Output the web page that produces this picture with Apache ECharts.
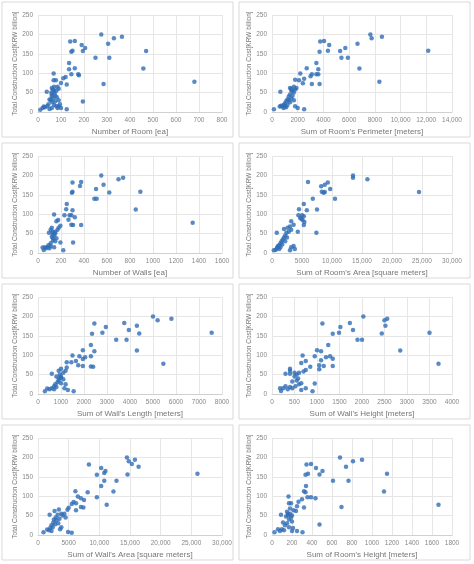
<!DOCTYPE html>
<html><head><meta charset="utf-8">
<script src="https://cdn.jsdelivr.net/npm/echarts@6/dist/echarts.min.js"></script>
<style>html,body{margin:0;padding:0;background:#fff}#c{width:474px;height:564px}</style>
</head><body><div id="c"></div>
<script>
const yAxisTitle = "Total Construction Cost[KRW billion]";
const xTitles = ["Number of Room [ea]","Sum of Room's Perimeter [meters]","Number of Walls [ea]","Sum of Room's Area [square meters]","Sum of Wall's Length [meters]","Sum of Wall's Height [meters]","Sum of Wall's Area [square meters]","Sum of Room's Height [meters]"];
const xMax = [800,14000,1600,30000,8000,4000,30000,1800];
const xStep = [100,2000,200,5000,1000,500,5000,200];
const yTicks = [0,50,100,150,200,250];

const roomCount = [[275,200],[365,194],[330,190],[305,176],[470,157],[310,140],[250,140],[458,112],[680,78],[285,72],[195,27],[125,7],[160,183],[140,182],[190,173],[205,165],[150,158],[145,155],[195,157],[135,126],[160,113],[135,110],[145,97],[175,97],[178,95],[120,90],[110,87],[125,71],[100,75],[68,99],[68,82],[78,82],[85,65],[90,60],[60,62],[65,58],[70,55],[80,55],[58,50],[72,48],[38,52],[60,45],[75,42],[82,38],[65,35],[55,30],[90,30],[50,32],[62,25],[45,20],[70,18],[80,15],[90,15],[100,10],[40,15],[30,12],[25,14],[20,10],[10,6],[60,10],[50,8],[85,10],[95,20],[75,28],[70,65],[60,40]];
const roomPerimeter = [[7650,200],[7750,190],[8550,194],[6650,176],[4050,183],[3750,182],[4450,173],[5700,165],[4350,158],[3700,155],[5300,157],[5400,140],[5900,140],[12150,158],[6800,112],[8350,78],[3450,126],[2700,113],[3600,110],[3450,97],[3600,97],[3100,97],[3000,92],[2200,99],[2500,86],[2100,82],[1800,83],[2400,74],[3100,72],[3700,72],[1400,62],[1700,65],[1900,62],[650,52],[1500,55],[1700,50],[1400,45],[1600,42],[1300,40],[1500,35],[1200,32],[1100,28],[1400,25],[1000,22],[900,18],[1200,18],[800,14],[600,14],[1100,12],[900,10],[1800,15],[2000,10],[2500,7],[150,7],[1600,55],[1800,58],[1300,30],[700,16],[1000,15],[1700,30],[1500,60]];
const wallCount = [[550,200],[740,194],[700,190],[570,176],[375,183],[300,182],[365,173],[505,165],[300,158],[295,155],[620,156],[890,158],[490,140],[510,140],[850,112],[1345,78],[250,126],[245,113],[300,110],[230,97],[275,97],[290,97],[320,92],[140,99],[265,86],[175,85],[160,82],[290,73],[305,72],[375,72],[195,70],[120,65],[110,60],[170,60],[180,65],[95,52],[130,55],[150,50],[140,45],[120,42],[160,38],[130,32],[150,30],[110,25],[195,27],[305,27],[90,20],[110,18],[85,15],[140,15],[60,15],[40,14],[70,12],[50,8],[220,7],[100,12],[125,50],[150,55],[130,38]];
const roomArea = [[13500,200],[13500,194],[15900,190],[8800,176],[9300,182],[6000,183],[8200,172],[9700,165],[8300,158],[8600,155],[8800,157],[24500,157],[6800,140],[10500,140],[7500,112],[7400,52],[5300,126],[4500,113],[5800,110],[4400,97],[5000,97],[5300,95],[4700,90],[5100,85],[4900,88],[5400,80],[5300,72],[4300,55],[3200,82],[3600,73],[3000,68],[3200,60],[2800,55],[2600,65],[2000,62],[2400,52],[800,52],[2200,45],[2000,40],[2500,40],[1800,35],[1600,30],[1400,25],[1200,20],[1000,18],[900,15],[800,12],[1200,10],[600,8],[300,7],[3200,15],[3600,18],[3800,10],[3000,7],[1400,15],[1700,22],[2200,30]];
const wallLength = [[5000,200],[5200,190],[5800,194],[4300,176],[3750,183],[2450,182],[2950,173],[3950,165],[2800,158],[2350,155],[4400,156],[7550,158],[3400,140],[3850,140],[4300,112],[5450,78],[2300,126],[1950,113],[2450,110],[1500,99],[1800,97],[2300,97],[2050,95],[1950,90],[1650,85],[1450,82],[1250,82],[1750,74],[1950,72],[2300,71],[2400,70],[1250,68],[1000,65],[900,60],[1200,60],[600,52],[1100,55],[950,50],[800,45],[1000,42],[1100,38],[900,35],[850,30],[1000,28],[750,25],[1200,25],[700,20],[800,18],[600,15],[400,14],[500,12],[700,12],[300,7],[1300,10],[1550,7],[1150,15],[1000,45],[900,40]];
const wallHeight = [[2030,200],[2560,194],[2500,190],[2520,176],[1730,183],[1120,182],[1520,173],[1800,165],[1490,158],[1350,155],[2440,156],[3500,158],[1900,140],[2000,140],[2850,112],[3700,78],[1000,113],[1250,126],[1090,110],[680,99],[950,97],[1200,95],[1290,97],[1350,91],[1090,87],[750,85],[650,80],[1150,72],[1350,72],[1050,74],[1050,64],[850,70],[750,62],[700,58],[400,65],[400,60],[600,55],[300,52],[400,52],[550,50],[500,45],[580,40],[450,32],[650,28],[600,25],[950,27],[520,20],[300,20],[400,18],[450,15],[750,15],[180,15],[250,15],[350,12],[200,8],[650,10],[900,7],[550,35],[500,55]];
const wallArea = [[14500,200],[15800,194],[14800,190],[16400,176],[8300,182],[15300,183],[10300,173],[11000,165],[9600,155],[10800,160],[14600,156],[26000,158],[10800,140],[12800,140],[12300,112],[11200,78],[10300,126],[6100,113],[8100,110],[9600,97],[6500,99],[7000,95],[7500,90],[5800,85],[6200,82],[5500,80],[7000,72],[7400,71],[6200,64],[5000,70],[4800,65],[2700,62],[3400,66],[1900,52],[3800,55],[4300,55],[4000,50],[2900,45],[3500,42],[4500,45],[3000,38],[2500,32],[3300,30],[2200,25],[3800,20],[3600,15],[2000,18],[1500,14],[1800,12],[2200,10],[900,7],[4900,8],[5500,6],[2800,28],[2400,20],[3200,52],[2600,40]];
const roomHeight = [[680,200],[900,194],[810,190],[740,176],[390,183],[345,182],[440,173],[505,165],[360,158],[335,155],[475,156],[1150,158],[610,140],[765,140],[1120,112],[1665,78],[340,126],[320,113],[335,110],[165,99],[355,97],[390,97],[435,95],[300,92],[265,86],[190,82],[170,82],[250,74],[320,71],[695,72],[215,64],[240,62],[150,60],[180,68],[90,52],[160,55],[200,50],[140,48],[190,45],[170,40],[200,35],[150,30],[110,32],[130,25],[170,20],[210,18],[100,15],[60,15],[120,12],[80,10],[25,7],[200,10],[250,10],[305,7],[475,27],[160,50],[180,55]];
const panels = [roomCount,roomPerimeter,wallCount,roomArea,wallLength,wallHeight,wallArea,roomHeight];

const fmt = v => v >= 10000 ? v.toLocaleString('en-US') : String(v);
const grid=[],xAxis=[],yAxis=[],series=[],graphic=[];
panels.forEach((d,i)=>{
  const c=i%2, r=Math.floor(i/2);
  const L=c*237, T=r*141;
  graphic.push({type:'rect',shape:{x:L+2,y:T+2,width:231,height:135},style:{fill:'none',stroke:'#d9d9d9',lineWidth:1}});
  grid.push({left:L+(c?35:38),width:c?180:184,top:T+15,height:97});
  xAxis.push({gridIndex:i,type:'value',min:0,max:xMax[i],interval:xStep[i],name:xTitles[i],nameLocation:'middle',nameGap:16,
    nameTextStyle:{fontSize:8,color:'#777'},axisLine:{show:true,lineStyle:{color:'#d0d0d0'}},axisTick:{show:false},
    axisLabel:{fontSize:6.5,color:'#888',margin:5,formatter:fmt},splitLine:{show:true,lineStyle:{color:'#e6e6e6'}}});
  yAxis.push({gridIndex:i,type:'value',min:yTicks[0],max:yTicks[yTicks.length-1],interval:50,name:yAxisTitle,nameLocation:'middle',nameGap:18,
    nameTextStyle:{fontSize:6.5,color:'#777'},axisLine:{show:false},axisTick:{show:false},
    axisLabel:{fontSize:6.5,color:'#888',margin:5},splitLine:{lineStyle:{color:'#e6e6e6'}}});
  series.push({type:'scatter',xAxisIndex:i,yAxisIndex:i,data:d,symbolSize:4.5,itemStyle:{color:'#2f6db5'},silent:true});
});
const chart=echarts.init(document.getElementById('c'));
chart.setOption({animation:false,backgroundColor:'#fff',grid,xAxis,yAxis,series,graphic});
</script></body></html>
